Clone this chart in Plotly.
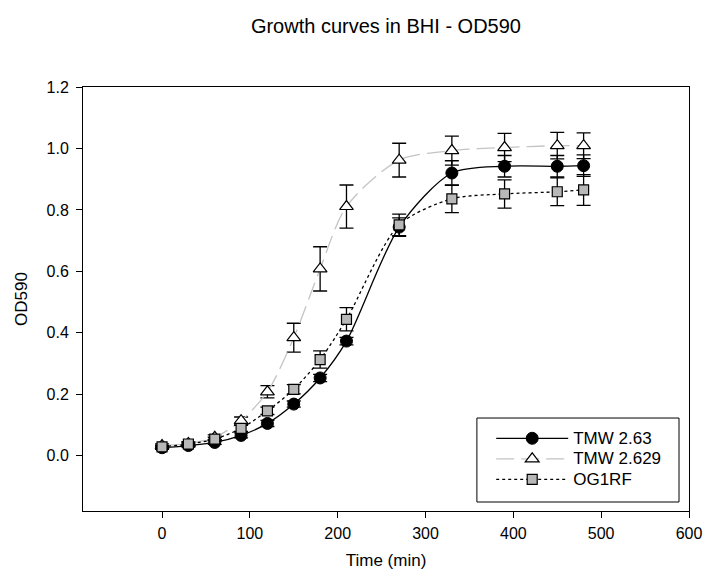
import plotly.graph_objects as go

time_min = [0, 30, 60, 90, 120, 150, 180, 210, 270, 330, 390, 450, 480]

tmw263 = [0.026, 0.033, 0.043, 0.066, 0.105, 0.168, 0.253, 0.373, 0.744, 0.920, 0.942, 0.942, 0.944]
tmw263_err = [0.005, 0.005, 0.006, 0.008, 0.010, 0.010, 0.012, 0.012, 0.030, 0.040, 0.035, 0.035, 0.035]

tmw2629 = [0.033, 0.040, 0.060, 0.114, 0.208, 0.384, 0.608, 0.811, 0.962, 0.993, 1.003, 1.009, 1.009]
tmw2629_err = [0.005, 0.006, 0.008, 0.012, 0.020, 0.047, 0.072, 0.070, 0.055, 0.047, 0.046, 0.043, 0.042]

og1rf = [0.029, 0.038, 0.054, 0.089, 0.146, 0.216, 0.313, 0.444, 0.751, 0.836, 0.852, 0.859, 0.865]
og1rf_err = [0.004, 0.005, 0.006, 0.010, 0.012, 0.015, 0.028, 0.038, 0.035, 0.045, 0.046, 0.045, 0.050]

x_ticks = [0, 100, 200, 300, 400, 500, 600]
y_ticks = [0.0, 0.2, 0.4, 0.6, 0.8, 1.0, 1.2]

FONT = "Liberation Sans, Arial, sans-serif"

def legend_name(s):
    return f'<span style="font-size:17px">{s}</span>'

fig = go.Figure()

def err(vals):
    return dict(type="data", array=vals, visible=True, color="black", thickness=1.3, width=7)

fig.add_trace(go.Scatter(
    x=time_min, y=tmw263, name=legend_name("TMW 2.63"), mode="lines+markers",
    line=dict(color="black", width=1.3, shape="spline", smoothing=0.8),
    marker=dict(symbol="circle", size=12, color="black", line=dict(color="black", width=1)),
    error_y=err(tmw263_err),
))
fig.add_trace(go.Scatter(
    x=time_min, y=tmw2629, name=legend_name("TMW 2.629"), mode="lines+markers",
    line=dict(color="#c4c4c4", width=1.3, shape="spline", smoothing=0.8, dash="18px,7px"),
    marker=dict(symbol="triangle-up", size=12, color="white", line=dict(color="black", width=1.2)),
    error_y=err(tmw2629_err),
))
fig.add_trace(go.Scatter(
    x=time_min, y=og1rf, name=legend_name("OG1RF"), mode="lines+markers",
    line=dict(color="black", width=1.3, shape="spline", smoothing=0.8, dash="dot"),
    marker=dict(symbol="square", size=10, color="#b8b8b8", line=dict(color="black", width=1.2)),
    error_y=err(og1rf_err),
))

axis_common = dict(
    showline=True, linecolor="black", linewidth=1, mirror=True,
    ticks="outside", ticklen=6, tickcolor="black", tickwidth=1,
    showgrid=False, zeroline=False, automargin=False,
    tickfont=dict(family=FONT, size=16, color="black"),
)

fig.update_layout(
    width=703, height=581,
    margin=dict(l=83, r=14, t=87, b=70, autoexpand=False),
    paper_bgcolor="white", plot_bgcolor="white",
    font=dict(family=FONT, color="black"),
    title=dict(text="Growth curves in BHI - OD590", x=0.549, xanchor="center",
               yref="container", y=0.956, yanchor="middle",
               font=dict(family=FONT, size=20, color="black")),
    xaxis=dict(range=[-90, 600], tickvals=x_ticks, ticktext=[str(v) for v in x_ticks],
               ticklabelstandoff=2,
               title=dict(text="Time (min)", font=dict(family=FONT, size=17), standoff=12),
               **axis_common),
    yaxis=dict(range=[-0.18, 1.2], tickvals=y_ticks, ticktext=[f"{v:.1f}" for v in y_ticks],
               ticklabelstandoff=4,
               title=dict(text="OD590", font=dict(family=FONT, size=17), standoff=14),
               **axis_common),
    legend=dict(x=0.6736, y=0.0377, xanchor="left", yanchor="bottom",
                borderwidth=0, bgcolor="rgba(0,0,0,0)",
                font=dict(family=FONT, size=13.5, color="black"),
                itemwidth=72, tracegroupgap=0),
    shapes=[dict(type="rect", xref="paper", yref="paper",
                 x0=0.650, x1=0.9835, y0=0.0212, y1=0.2193,
                 line=dict(color="black", width=1), fillcolor="white", layer="below")],
    showlegend=True,
)

fig.write_html("out.html", config={"displayModeBar": False},
               post_script="document.body.style.margin='0px';")
